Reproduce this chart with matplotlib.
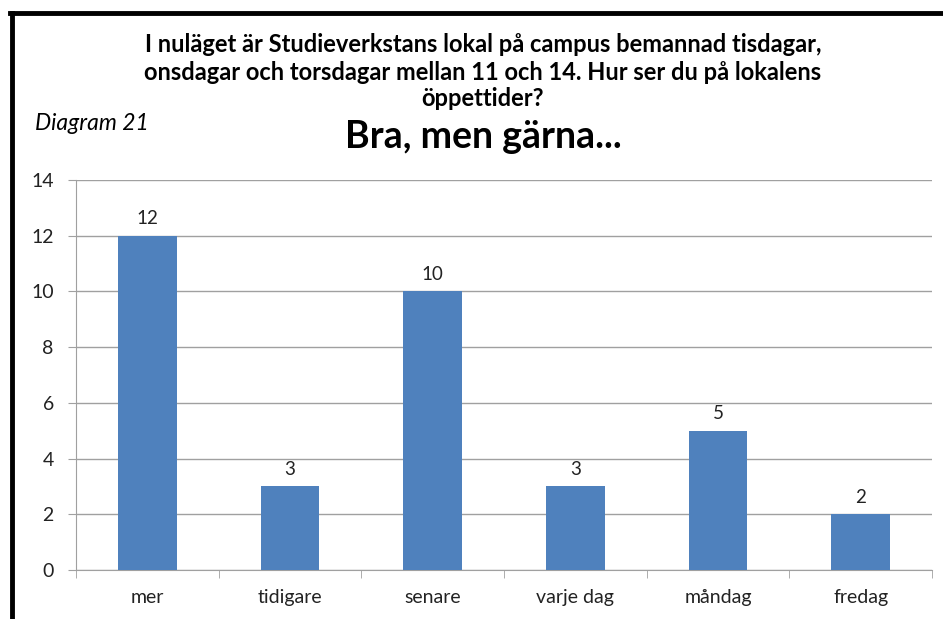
import matplotlib.pyplot as plt
from matplotlib.lines import Line2D

categories = ["mer", "tidigare", "senare", "varje dag", "måndag", "fredag"]
values = [12, 3, 10, 3, 5, 2]
yticks = [0, 2, 4, 6, 8, 10, 12, 14]

title = ("I nuläget är Studieverkstans lokal på campus bemannad tisdagar,\n"
         "onsdagar och torsdagar mellan 11 och 14. Hur ser du på lokalens\n"
         "öppettider?")
subtitle = "Bra, men gärna..."

plt.rcParams["font.family"] = ["Lato", "DejaVu Sans"]

W, H = 943, 619
fig = plt.figure(figsize=(W / 100, H / 100), dpi=100)
ax = fig.add_axes([76 / W, 1 - 570 / H, (932 - 76) / W, (570 - 180) / H])

x = range(len(categories))
bars = ax.bar(x, values, width=0.41, color="#4F81BD", zorder=3)
for b, v in zip(bars, values):
    ax.annotate(str(v), (b.get_x() + b.get_width() / 2, v), xytext=(0, 6),
                textcoords="offset points", ha="center", va="bottom",
                fontsize=13.5, color="#222222")

ax.set_xlim(-0.5, len(categories) - 0.5)
ax.set_ylim(0, 14)
ax.set_yticks(yticks)
ax.yaxis.grid(True, color="#A0A0A0", linewidth=1, zorder=0)
ax.set_xticks(list(x))
ax.set_xticklabels(categories, fontsize=14, color="#222222")
ax.set_xticks([i - 0.5 for i in range(len(categories) + 1)], minor=True)
ax.tick_params(axis="x", which="major", length=0, pad=14)
ax.tick_params(axis="x", which="minor", length=6, color="#A0A0A0")
ax.tick_params(axis="y", length=6, color="#A0A0A0", labelsize=14,
               labelcolor="#222222", pad=10)
for s in ["top", "right"]:
    ax.spines[s].set_visible(False)
for s in ["left", "bottom"]:
    ax.spines[s].set_color("#A0A0A0")

fig.text(483 / W, 1 - 44 / H, title.split("\n")[0], ha="center", va="center",
         fontsize=17, fontweight="bold")
fig.text(483 / W, 1 - 72 / H, title.split("\n")[1], ha="center", va="center",
         fontsize=17, fontweight="bold")
fig.text(483 / W, 1 - 99 / H, title.split("\n")[2], ha="center", va="center",
         fontsize=17, fontweight="bold")
fig.text(483 / W, 1 - 137 / H, subtitle, ha="center", va="center",
         fontsize=27, fontweight="bold")
fig.text(35 / W, 1 - 124 / H, "Diagram 21", ha="left", va="center",
         fontsize=16.5, style="italic")

fig.add_artist(Line2D([10 / W, 1], [1 - 13 / H] * 2, color="black", lw=3.5,
                      transform=fig.transFigure))
fig.add_artist(Line2D([12 / W] * 2, [1 - 13 / H, 0], color="black", lw=3.5,
                      transform=fig.transFigure))

fig.savefig("out.png", dpi=100)
